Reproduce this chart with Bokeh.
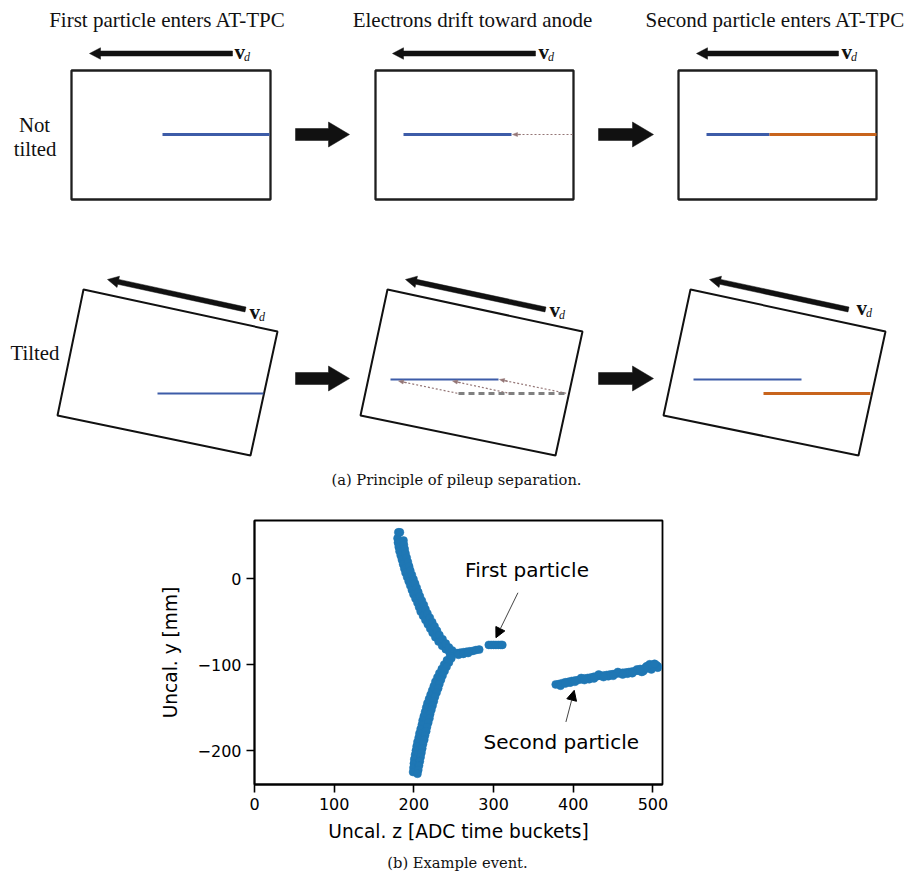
import math
from bokeh.plotting import figure
from bokeh.layouts import column
from bokeh.models import Range1d, FixedTicker, Arrow, NormalHead
from bokeh.core.properties import value
from bokeh.embed import file_html
from bokeh.resources import INLINE

# ---------------- data for the example event (panel b) ----------------
upper_a_x = [179.5, 180, 181, 182, 183.5, 185, 186.5, 188, 189.5, 191.5, 193.5, 195.5, 197.5, 199.5,
             202, 204.5, 206.5, 208.5, 211.5, 214.5, 217.5, 220.5, 223.5, 227, 231, 235.5, 240, 244.5]
upper_a_y = [47, 42, 37, 32, 27, 22, 17, 12, 7, 2, -3, -8, -13, -18, -23, -28, -33, -38, -43, -48,
             -53, -58, -63, -68, -73, -78, -82, -85]
upper_b_x = [187, 187.5, 188.5, 189.5, 191, 192.5, 194, 195.5, 197.5, 199.5, 201.5, 203.5, 205.5, 207.5,
             210, 212.5, 214.5, 217, 220, 223, 226, 229, 232, 236, 240, 244, 248]
upper_b_y = [44.5, 39.5, 34.5, 29.5, 24.5, 19.5, 14.5, 9.5, 4.5, -0.5, -5.5, -10.5, -15.5, -20.5, -25.5,
             -30.5, -35.5, -40.5, -45.5, -50.5, -55.5, -60.5, -65.5, -70.5, -75.5, -80, -83.5]
blob_x = [180.5, 182.5]
blob_y = [54, 54]
stub_x = [250, 254, 258, 262, 266, 270, 274, 278, 282, 256, 262, 268]
stub_y = [-87, -86.5, -86, -85.5, -85, -84.5, -84, -83, -82.5, -88.5, -87.5, -86.5]
first_x = [294, 297, 300, 303, 306, 309, 311]
first_y = [-77, -77, -77, -77, -77, -77, -77]
lower_c_x = [245.5, 241.5, 238, 235, 232, 229.5, 227, 225, 223, 221, 219, 217, 215.5, 214, 212.5, 211,
             210, 208.5, 207, 206, 204.5, 203.5, 202.5, 201.5, 200.5, 200, 199.5, 199]
lower_c_y = [-90, -95, -100, -105, -110, -115, -120, -125, -130, -135, -140, -145, -150, -155, -160,
             -165, -170, -175, -180, -185, -190, -195, -200, -205, -210, -215, -220, -225]
lower_d_x = [247, 244, 241, 238.5, 236, 234, 232, 230.5, 228.5, 226.5, 225, 223.5, 222, 220.5, 219.5,
             218, 216.5, 215.5, 214, 213, 211.5, 210.5, 209.5, 208.5, 207.5, 206.5, 205.5, 204.5]
lower_d_y = [-92.5, -97.5, -102.5, -107.5, -112.5, -117.5, -122.5, -127.5, -132.5, -137.5, -142.5,
             -147.5, -152.5, -157.5, -162.5, -167.5, -172.5, -177.5, -182.5, -187.5, -192.5, -197.5,
             -202.5, -207.5, -212.5, -217.5, -222.5, -227]
second_x = [378, 382, 386, 390, 394, 398, 402, 406, 410, 414, 418, 422, 426, 430, 434, 438, 442, 446,
            450, 454, 458, 462, 466, 470, 474, 478, 482, 486, 490, 494, 498, 502, 506,
            384, 396, 410, 420, 432, 444, 456, 468, 480, 492, 496, 500, 504, 506, 488,
            390, 402, 414, 426, 438, 450, 462, 474, 486, 498, 502, 494, 496, 502, 490, 484]
second_y = [-123, -122.5, -121.5, -120.5, -120, -119, -118.5, -118, -117, -116, -115.5, -115, -114,
            -113.5, -113, -112.5, -112, -111.5, -111, -110.5, -110, -109.5, -109, -108.5, -108, -107.5,
            -107, -106, -105, -104, -103, -102.5, -102,
            -124.5, -121, -115.5, -117, -111.5, -113.5, -108.5, -110.5, -105.5, -102, -100.5, -101,
            -100.5, -103.5, -107.5,
            -122, -120, -118, -116, -114.5, -113, -111.5, -110, -108.5, -105.5, -100, -101.5, -99.5,
            -99, -104, -105]

x_ticks = [0, 100, 200, 300, 400, 500]
y_ticks = [-200, -100, 0]
y_tick_labels = ["\u2212200", "\u2212100", "0"]

# ---------------- panel (a) diagram texts ----------------
titles = ["First particle enters AT-TPC", "Electrons drift toward anode", "Second particle enters AT-TPC"]
title_x = [167, 472, 775]
row_labels = ["Not", "tilted", "Tilted"]
row_label_x = [34, 34.5, 34.5]
row_label_y = [124, 148, 352]

SERIF = value("Liberation Serif")
CAP = value("DejaVu Serif")
SANS = value("DejaVu Sans")

W = 905
pa = figure(width=W, height=495, x_range=Range1d(0, W), y_range=Range1d(495, 0),
            x_axis_location=None, y_axis_location=None, toolbar_location=None,
            output_backend="svg", min_border=0, frame_align=False)
pa.outline_line_color = None
pa.grid.grid_line_color = None


def arrow_poly(tail, tip, shaft_w, head_len, head_w):
    dx, dy = tip[0] - tail[0], tip[1] - tail[1]
    L = math.hypot(dx, dy)
    ux, uy = dx / L, dy / L
    nx, ny = -uy, ux
    bx, by = tip[0] - ux * head_len, tip[1] - uy * head_len
    s, h = shaft_w / 2, head_w / 2
    pts = [(tail[0] + nx * s, tail[1] + ny * s), (bx + nx * s, by + ny * s), (bx + nx * h, by + ny * h),
           tip, (bx - nx * h, by - ny * h), (bx - nx * s, by - ny * s), (tail[0] - nx * s, tail[1] - ny * s)]
    return [p[0] for p in pts], [p[1] for p in pts]


# boxes
box_xs = [[71, 270, 270, 71], [375, 573, 573, 375], [678, 876, 876, 678]]
box_ys = [[70, 70, 199, 199]] * 3
pa.patches(box_xs, box_ys, fill_color=None, line_color="#1e1e1e", line_width=2.3)
tbox_xs = [[83, 277, 250, 57], [387, 582, 555, 360], [690, 885, 858, 663]]
tbox_ys = [[289, 331, 455, 415]] * 3
pa.patches(tbox_xs, tbox_ys, fill_color=None, line_color="#111111", line_width=2.0)

# drift arrows (v_d)
vd_tails = [(232, 53), (535, 53), (838, 53), (245, 309), (545, 309), (848, 309)]
vd_tips = [(89, 53), (392, 53), (696, 53), (107, 279), (405, 279), (709, 279)]
axs, ays = [], []
for t, h in zip(vd_tails, vd_tips):
    xs, ys = arrow_poly(t, h, 5, 11, 11.5)
    axs.append(xs); ays.append(ys)
# big step arrows
for (x0, x1, yc) in [(295, 349, 134), (598, 653, 134), (295, 349, 378), (598, 653, 378)]:
    xs, ys = arrow_poly((x0, yc), (x1, yc), 12, 21, 25)
    axs.append(xs); ays.append(ys)
pa.patches(axs, ays, fill_color="#111111", line_color="#111111", line_width=0.5)

vd_v_x = [234, 538, 841, 249, 549, 856]
vd_v_y = [51, 51, 51, 311, 309, 307]
pa.text(x=vd_v_x, y=vd_v_y, text=["v"] * 6, text_font=SERIF, text_font_style="bold",
        text_font_size="21px", text_color="#111111", text_baseline="alphabetic", text_align="left")
pa.text(x=[x + 9.5 for x in vd_v_x], y=[y + 5 for y in vd_v_y], text=["d"] * 6, text_font=SERIF,
        text_font_style="italic", text_font_size="12px", text_color="#111111",
        text_baseline="alphabetic", text_align="left")

# tracks
BLUE = "#3d5ca8"
ORANGE = "#c8641c"
pa.segment(x0=[162, 403, 706], y0=[134] * 3, x1=[269, 511, 769], y1=[134] * 3, line_color=BLUE, line_width=3.2)
pa.segment(x0=[769], y0=[134], x1=[876], y1=[134], line_color=ORANGE, line_width=3.2)
pa.segment(x0=[157, 390, 693], y0=[393, 379, 379], x1=[263, 498, 801], y1=[393, 379, 379],
           line_color=BLUE, line_width=2.2)
pa.segment(x0=[763], y0=[393], x1=[870], y1=[393], line_color=ORANGE, line_width=3.2)
pa.segment(x0=[458], y0=[393], x1=[567], y1=[393], line_color="#808080", line_width=3, line_dash="6 4")
DOT = "#947676"
pa.segment(x0=[514, 400, 454, 501], y0=[134, 381, 381, 379.5], x1=[573, 458, 510, 567],
           y1=[134, 393, 393, 393], line_color=DOT, line_width=1.2, line_dash="2 2")
hxs, hys = [], []
for tail, tip in [((520, 134), (512, 134)), ((406, 382.2), (398, 380.5)),
                  ((460, 382.2), (452, 380.5)), ((507, 380.7), (499, 379))]:
    xs, ys = arrow_poly(tail, tip, 0.5, 5, 4)
    hxs.append(xs); hys.append(ys)
pa.patches(hxs, hys, fill_color=DOT, line_color=DOT, line_width=0.5)

pa.text(x=title_x, y=[19] * 3, text=titles, text_font=SERIF, text_font_size="21px",
        text_color="#111111", text_align="center", text_baseline="alphabetic")
pa.text(x=row_label_x, y=row_label_y, text=row_labels, text_font=SERIF, text_font_size="20.8px",
        text_color="#111111", text_align="center", text_baseline="alphabetic")
pa.text(x=[456], y=[479], text=["(a) Principle of pileup separation."], text_font=CAP,
        text_font_size="14.7px", text_color="#111111", text_align="center", text_baseline="alphabetic")

# ---------------- panel (b) scatter ----------------
pb = figure(frame_width=408, frame_height=264, x_range=Range1d(0, 512), y_range=Range1d(-239.5, 67.8),
            min_border_left=254, min_border_right=W - 254 - 408, min_border_top=25, min_border_bottom=66,
            toolbar_location=None, output_backend="svg", frame_align=False)
pb.grid.grid_line_color = None
pb.outline_line_color = "black"
pb.outline_line_width = 1.8
pb.outline_line_alpha = 1.0

all_x = upper_a_x + upper_b_x + blob_x + stub_x + first_x + lower_c_x + lower_d_x + second_x
all_y = upper_a_y + upper_b_y + blob_y + stub_y + first_y + lower_c_y + lower_d_y + second_y
pb.scatter(all_x, all_y, size=8, fill_color="#1f77b4", line_color="#1f77b4", line_width=0.5)

pb.xaxis.ticker = FixedTicker(ticks=x_ticks)
pb.yaxis.ticker = FixedTicker(ticks=y_ticks)
pb.yaxis.major_label_overrides = {t: l for t, l in zip(y_ticks, y_tick_labels)}
pb.xaxis.axis_label = "Uncal. z [ADC time buckets]"
pb.yaxis.axis_label = "Uncal. y [mm]"
for ax in (pb.xaxis, pb.yaxis):
    ax.major_tick_out = 8
    ax.major_tick_in = 0
    ax.minor_tick_out = 0
    ax.minor_tick_in = 0
    ax.major_tick_line_width = 1.6
    ax.major_tick_line_color = "black"
    ax.axis_line_width = 1.8
    ax.axis_line_color = "black"
    ax.major_label_text_font = "DejaVu Sans"
    ax.major_label_text_font_size = "16px"
    ax.major_label_text_color = "black"
    ax.axis_label_text_font = "DejaVu Sans"
    ax.axis_label_text_font_size = "18.6px"
    ax.axis_label_text_font_style = "normal"
    ax.axis_label_text_color = "black"
pb.xaxis.major_label_standoff = 5
pb.xaxis.axis_label_standoff = 8
pb.yaxis.major_label_standoff = 5
pb.yaxis.axis_label_standoff = 14

pb.text(x=[342, 385], y=[10, -189.5], text=["First particle", "Second particle"], text_font=SANS,
        text_font_size="20px", text_color="black", text_align="center", text_baseline="alphabetic")
pb.add_layout(Arrow(end=NormalHead(size=10, fill_color="black", line_color="black"),
                    x_start=330.6, y_start=-16.3, x_end=303, y_end=-68.6,
                    line_color="#444444", line_width=1))
pb.add_layout(Arrow(end=NormalHead(size=10, fill_color="black", line_color="black"),
                    x_start=390.8, y_start=-166.7, x_end=401.2, y_end=-129.9,
                    line_color="#444444", line_width=1))

# ---------------- caption (b) ----------------
pc = figure(width=W, height=26, x_range=Range1d(0, W), y_range=Range1d(876, 850),
            x_axis_location=None, y_axis_location=None, toolbar_location=None,
            output_backend="svg", min_border=0, frame_align=False)
pc.outline_line_color = None
pc.grid.grid_line_color = None
pc.text(x=[457], y=[862], text=["(b) Example event."], text_font=CAP, text_font_size="14.7px",
        text_color="#111111", text_align="center", text_baseline="alphabetic")

layout = column(pa, pb, pc)
open("out.html", "w").write(file_html(layout, INLINE))
